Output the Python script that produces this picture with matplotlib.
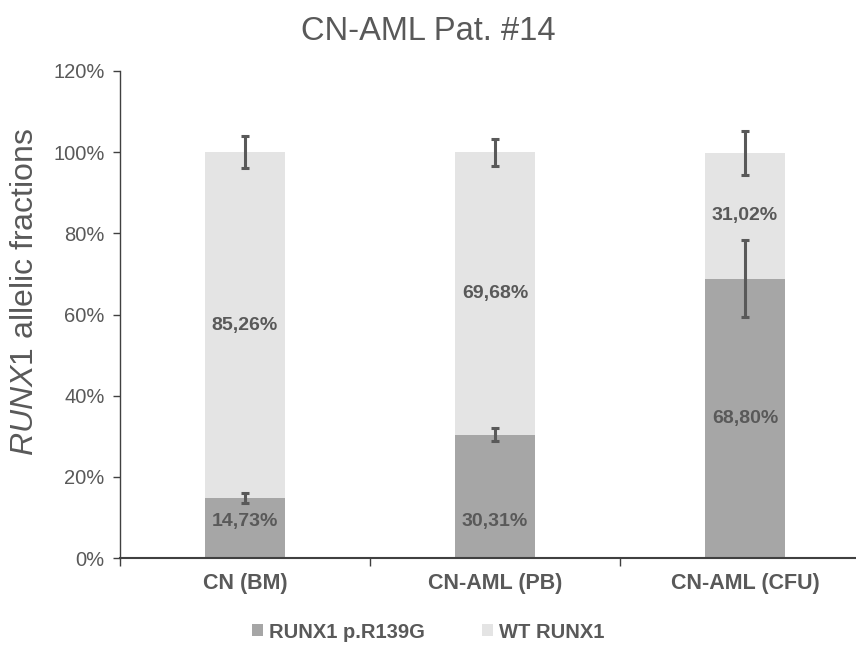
import matplotlib
matplotlib.use("Agg")
import matplotlib.pyplot as plt
import numpy as np
from matplotlib.patches import Patch

plt.rcParams['font.family'] = ['Liberation Sans', 'DejaVu Sans']
plt.rcParams['mathtext.fontset'] = 'custom'
plt.rcParams['mathtext.it'] = 'Liberation Sans:italic'
plt.rcParams['mathtext.rm'] = 'Liberation Sans'

categories = ["CN (BM)", "CN-AML (PB)", "CN-AML (CFU)"]
mutant = [14.73, 30.31, 68.80]
wildtype = [85.26, 69.68, 31.02]
mutant_err = [1.2, 1.6, 9.5]
wildtype_err = [4.0, 3.3, 5.5]
mutant_labels = ["14,73%", "30,31%", "68,80%"]
wildtype_labels = ["85,26%", "69,68%", "31,02%"]
yticks = [0, 20, 40, 60, 80, 100, 120]
ytick_labels = ["0%", "20%", "40%", "60%", "80%", "100%", "120%"]

C_MUT = "#a6a6a6"
C_WT = "#e4e4e4"
C_TXT = "#595959"
C_ERR = "#595959"

fig = plt.figure(figsize=(8.56, 6.68), dpi=100)
ax = fig.add_axes([120/856, 110/668, 736/856, 487/668])

x = np.arange(len(categories))
bw = 0.32
ax.bar(x, mutant, bw, color=C_MUT, zorder=2)
ax.bar(x, wildtype, bw, bottom=mutant, color=C_WT, zorder=2)

tops = np.array(mutant) + np.array(wildtype)
ax.errorbar(x, mutant, yerr=mutant_err, fmt='none', ecolor=C_ERR,
            elinewidth=2.2, capsize=3, capthick=2.2, zorder=3)
ax.errorbar(x, tops, yerr=wildtype_err, fmt='none', ecolor=C_ERR,
            elinewidth=2.2, capsize=3, capthick=2.2, zorder=3)

# label positions (layout): small bottom segments labels sit lower
mut_label_y = [9.1, 9.1, None]
for i in range(len(categories)):
    my = mut_label_y[i] if mut_label_y[i] is not None else mutant[i] / 2
    ax.text(x[i], my, mutant_labels[i], ha='center', va='center',
            fontsize=14, fontweight='bold', color=C_TXT, zorder=4)
    wy = mutant[i] + wildtype[i] / 2
    ax.text(x[i], wy, wildtype_labels[i], ha='center', va='center',
            fontsize=14, fontweight='bold', color=C_TXT, zorder=4)

ax.set_ylim(0, 120)
ax.set_xlim(-0.5, 2.5 - 14/250)
ax.set_yticks(yticks)
ax.set_yticklabels(ytick_labels, fontsize=14.5, color=C_TXT)
ax.set_xticks(x)
ax.set_xticklabels(categories, fontsize=15.5, fontweight='bold', color=C_TXT)
ax.tick_params(axis='x', which='major', length=0, pad=11)
ax.set_xticks([-0.5, 0.5, 1.5], minor=True)
ax.tick_params(axis='x', which='minor', length=6, width=1, color='#404040', direction='out')
ax.tick_params(axis='y', length=5, width=1, color='#404040', direction='out', pad=6)

for s in ['top', 'right']:
    ax.spines[s].set_visible(False)
ax.spines['left'].set_color('#404040')
ax.spines['left'].set_linewidth(1)
ax.spines['bottom'].set_color('#404040')
ax.spines['bottom'].set_linewidth(1.5)

fig.text(25/856, 1 - 292/668, r"$\mathit{RUNX1}$ allelic fractions", rotation=90,
         ha='center', va='center', fontsize=23, color=C_TXT)

fig.text(428/856, 1 - 31/668, "CN-AML Pat. #14", ha='center', va='center',
         fontsize=23.5, color=C_TXT)

handles = [Patch(facecolor=C_MUT, edgecolor='none'), Patch(facecolor=C_WT, edgecolor='none')]
leg = fig.legend(handles, ["RUNX1 p.R139G", "WT RUNX1"], loc='center',
                 bbox_to_anchor=(428/856, 1 - 632/668), ncol=2, frameon=False,
                 handlelength=0.55, handleheight=0.55, handletextpad=0.3, columnspacing=2.85,
                 prop={'size': 14.5, 'weight': 'bold'})
for t in leg.get_texts():
    t.set_color(C_TXT)

fig.savefig("out.png", dpi=100)
